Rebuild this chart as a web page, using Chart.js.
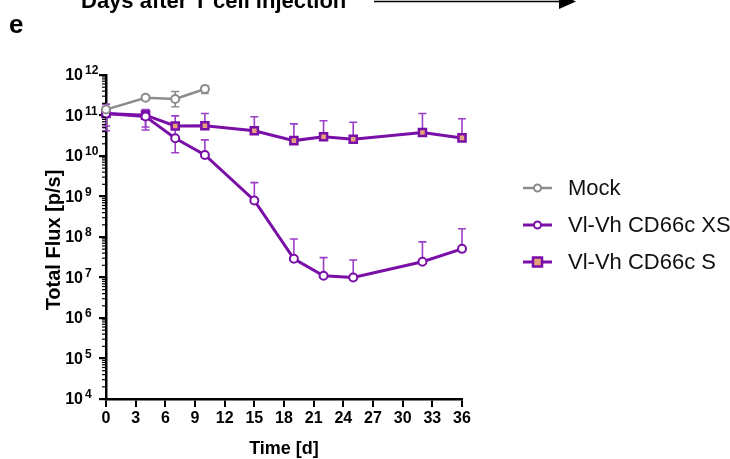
<!DOCTYPE html>
<html>
<head>
<meta charset="utf-8">
<script src="https://cdn.jsdelivr.net/npm/chart.js@4.4.1/dist/chart.umd.min.js"></script>
<style>
html,body{margin:0;padding:0;background:#fff;}
#wrap{width:730px;height:459px;position:relative;}
</style>
</head>
<body>
<div id="wrap"><canvas id="c" width="730" height="459"></canvas></div>
<script>
// ---- data ----
const seriesNames = ["Mock", "Vl-Vh CD66c XS", "Vl-Vh CD66c S"];
const mockDays = [0, 4, 7, 10];
const mockFlux = [1.4e11, 2.75e11, 2.55e11, 4.5e11];
const mockErrHigh = [1.9e11, 3.1e11, 3.9e11, 5.4e11];
const mockErrLow = [null, 2.4e11, 1.65e11, 3.5e11];

const xsDays = [0, 4, 7, 10, 15, 19, 22, 25, 32, 36];
const xsFlux = [1.12e11, 9.4e10, 2.75e10, 1.06e10, 8.0e8, 2.9e7, 1.1e7, 1.0e7, 2.45e7, 5.1e7];
const xsErrHigh = [1.9e11, 1.4e11, 4.8e10, 2.5e10, 2.2e9, 8.9e7, 3.1e7, 2.7e7, 7.6e7, 1.6e8];
const xsErrLow = [4.2e10, 4.4e10, 1.2e10, null, null, null, null, null, null, null];

const sDays = [0, 4, 7, 10, 15, 19, 22, 25, 32, 36];
const sFlux = [1.12e11, 1.02e11, 5.5e10, 5.6e10, 4.2e10, 2.4e10, 3.0e10, 2.6e10, 3.8e10, 2.8e10];
const sErrHigh = [1.65e11, 1.35e11, 9.8e10, 1.12e11, 9.3e10, 6.2e10, 7.4e10, 6.8e10, 1.12e11, 8.3e10];
const sErrLow = [5.5e10, 5.2e10, null, null, null, null, null, null, null, null];

const xTickStep = 3;
const yExponents = [4, 5, 6, 7, 8, 9, 10, 11, 12];
const xTitle = "Time [d]";
const yTitle = "Total Flux [p/s]";
const panelLetter = "e";
const topCaption = "Days after T cell injection";

// ---- styles ----
const FONT = "'Liberation Sans', Arial, sans-serif";
const GRAY = "#8c8c8c";
const PURPLE = "#7a0fa8";
const PURPLE_ERR = "#9b3fc8";
const SQ_FILL = "#e6a37a";

function pts(days, vals) { return days.map((d, i) => ({x: d, y: vals[i]})); }

const datasets = [
  {label: seriesNames[0], data: pts(mockDays, mockFlux), borderColor: GRAY, backgroundColor: "#ffffff",
   borderWidth: 2.5, pointStyle: "circle", pointRadius: 4, pointBorderWidth: 2, pointBorderColor: GRAY,
   pointBackgroundColor: "#fff", errHigh: mockErrHigh, errLow: mockErrLow, errColor: GRAY, clip: false, tension: 0},
  {label: seriesNames[1], data: pts(xsDays, xsFlux), borderColor: PURPLE, backgroundColor: "#ffffff",
   borderWidth: 3, pointStyle: "circle", pointRadius: 4, pointBorderWidth: 2, pointBorderColor: PURPLE,
   pointBackgroundColor: "#fff", errHigh: xsErrHigh, errLow: xsErrLow, errColor: PURPLE_ERR, clip: false, tension: 0},
  {label: seriesNames[2], data: pts(sDays, sFlux), borderColor: PURPLE, backgroundColor: SQ_FILL,
   borderWidth: 3, pointStyle: "rect", pointRadius: 5, pointBorderWidth: 2.5, pointBorderColor: PURPLE,
   pointBackgroundColor: SQ_FILL, errHigh: sErrHigh, errLow: sErrLow, errColor: PURPLE_ERR, clip: false, tension: 0}
];

const errorBars = {
  id: "errorBars",
  beforeDatasetsDraw(chart) {
    const ctx = chart.ctx, xs = chart.scales.x, ys = chart.scales.y;
    chart.data.datasets.forEach(ds => {
      ctx.save();
      ctx.strokeStyle = ds.errColor; ctx.lineWidth = 1.6;
      ds.data.forEach((p, i) => {
        const px = xs.getPixelForValue(p.x), py = ys.getPixelForValue(p.y);
        [ds.errHigh[i], ds.errLow[i]].forEach(v => {
          if (v == null) return;
          const ey = ys.getPixelForValue(v);
          ctx.beginPath(); ctx.moveTo(px, py); ctx.lineTo(px, ey);
          ctx.moveTo(px - 4, ey); ctx.lineTo(px + 4, ey); ctx.stroke();
        });
      });
      ctx.restore();
    });
  }
};

const decor = {
  id: "decor",
  afterDraw(chart) {
    const ctx = chart.ctx, ys = chart.scales.y;
    const axX = chart.chartArea.left;
    ctx.save();
    // minor log ticks
    ctx.strokeStyle = "#000"; ctx.lineWidth = 1.2;
    for (let e = yExponents[0]; e < yExponents[yExponents.length - 1]; e++) {
      for (let m = 2; m <= 9; m++) {
        const y = ys.getPixelForValue(m * Math.pow(10, e));
        ctx.beginPath(); ctx.moveTo(axX - 4, y); ctx.lineTo(axX, y); ctx.stroke();
      }
    }
    // y tick labels 10^n
    ctx.fillStyle = "#000"; ctx.textBaseline = "middle";
    yExponents.forEach(e => {
      const y = ys.getPixelForValue(Math.pow(10, e));
      ctx.font = "bold 16px " + FONT; ctx.textAlign = "right";
      ctx.fillText("10", 83, y + 1);
      ctx.font = "bold 12px " + FONT; ctx.textAlign = "left";
      ctx.fillText(String(e), 85, y - 4);
    });
    // y title
    ctx.save();
    ctx.translate(60, 240);
    ctx.rotate(-Math.PI / 2);
    ctx.font = "bold 20px " + FONT; ctx.textAlign = "center"; ctx.textBaseline = "alphabetic";
    ctx.fillText(yTitle, 0, 0);
    ctx.restore();
    // x title
    ctx.font = "bold 18px " + FONT; ctx.textAlign = "center"; ctx.textBaseline = "middle";
    ctx.fillText(xTitle, (chart.chartArea.left + chart.chartArea.right) / 2, 449);
    // panel letter
    ctx.font = "bold 26px " + FONT; ctx.textAlign = "left"; ctx.textBaseline = "alphabetic";
    ctx.fillText(panelLetter, 9, 33);
    // top caption (cut off)
    ctx.font = "bold 22px " + FONT;
    ctx.fillText(topCaption, 81, 8);
    ctx.lineWidth = 1.6; ctx.beginPath(); ctx.moveTo(374, 1.5); ctx.lineTo(562, 1.5); ctx.stroke();
    ctx.beginPath(); ctx.moveTo(559, -6); ctx.lineTo(576, 1.5); ctx.lineTo(559, 9); ctx.closePath(); ctx.fill();
    // legend
    const legY = [188, 225, 262];
    chart.data.datasets.forEach((ds, i) => {
      const y = legY[i];
      ctx.strokeStyle = ds.borderColor; ctx.lineWidth = ds.borderWidth;
      ctx.beginPath(); ctx.moveTo(523, y); ctx.lineTo(552, y); ctx.stroke();
      ctx.lineWidth = ds.pointBorderWidth; ctx.fillStyle = ds.pointBackgroundColor;
      if (ds.pointStyle === "rect") {
        ctx.fillRect(533, y - 4.5, 9, 9); ctx.strokeRect(533, y - 4.5, 9, 9);
      } else {
        ctx.beginPath(); ctx.arc(537.5, y, 3.5, 0, Math.PI * 2); ctx.fill(); ctx.stroke();
      }
      ctx.fillStyle = "#111"; ctx.font = "22px " + FONT; ctx.textAlign = "left"; ctx.textBaseline = "middle";
      ctx.fillText(ds.label, 568, y + 1);
    });
    ctx.restore();
  }
};

new Chart(document.getElementById("c"), {
  type: "line",
  data: {datasets},
  options: {
    responsive: false, animation: false, devicePixelRatio: 1,
    layout: {padding: {left: 0, right: 268, top: 75, bottom: 0}},
    plugins: {legend: {display: false}, tooltip: {enabled: false}},
    scales: {
      x: {
        type: "linear", min: 0, max: 36,
        ticks: {stepSize: xTickStep, color: "#000", font: {family: FONT, size: 16, weight: "bold"}, padding: 2, maxRotation: 0, autoSkip: false},
        grid: {drawOnChartArea: false, drawTicks: true, tickLength: 8, color: "#000", lineWidth: 2},
        border: {display: true, color: "#000", width: 2.5},
        afterFit(s) { s.height = 60; }
      },
      y: {
        type: "logarithmic", min: 1e4, max: 1e12,
        afterBuildTicks(s) { s.ticks = yExponents.map(e => ({value: Math.pow(10, e), major: true})); },
        ticks: {display: false},
        grid: {drawOnChartArea: false, drawTicks: true, tickLength: 7, color: "#000", lineWidth: 2.2},
        border: {display: true, color: "#000", width: 2.5},
        afterFit(s) { s.width = 106; }
      }
    }
  },
  plugins: [errorBars, decor]
});
</script>
</body>
</html>
